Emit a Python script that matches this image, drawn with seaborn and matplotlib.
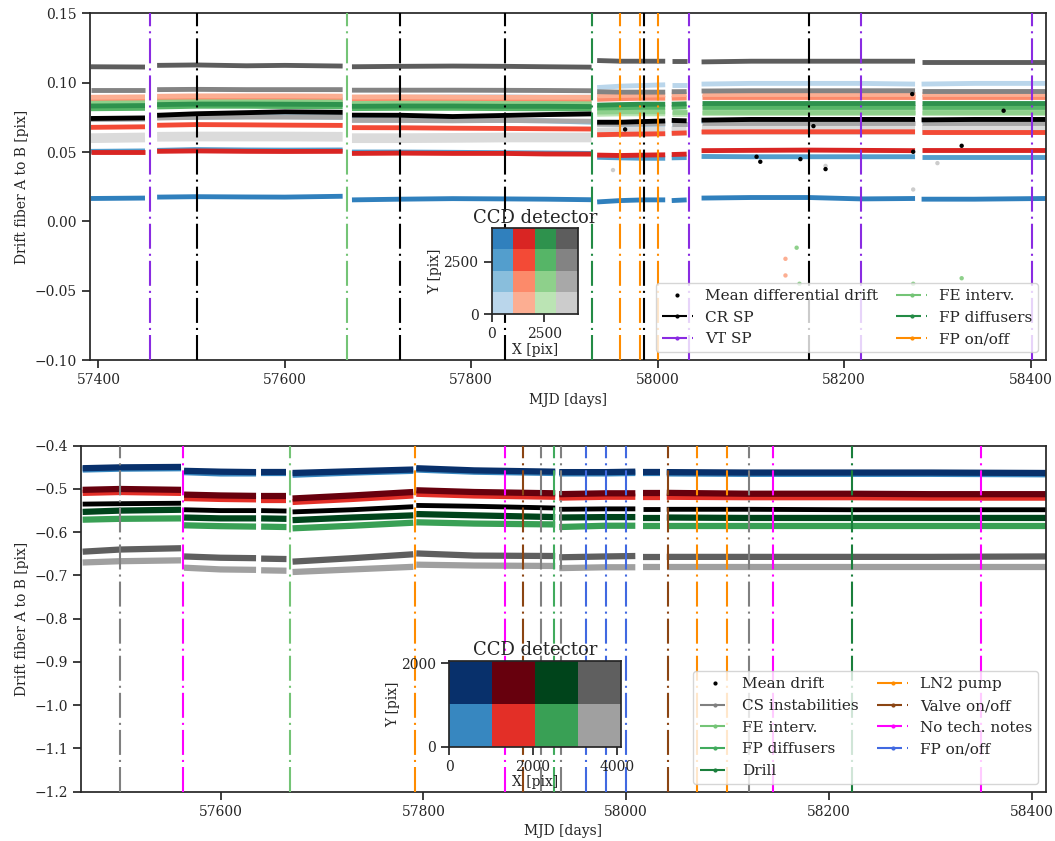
import numpy as np
import pandas as pd
import matplotlib
matplotlib.use("Agg")
import matplotlib.pyplot as plt
import matplotlib.colors as mcolors
from matplotlib.lines import Line2D
import seaborn as sns

sns.set_theme(style="ticks")
plt.rcParams["font.family"] = ["DejaVu Serif"]
plt.rcParams["font.size"] = 10
plt.rcParams["axes.labelsize"] = 10
plt.rcParams["xtick.labelsize"] = 10
plt.rcParams["ytick.labelsize"] = 10

# ---------------- upper panel: differential drift per CCD quadrant ----------------
top_mjd = [57392, 57450, 57463, 57505, 57559, 57600, 57662, 57672, 57725, 57780,
           57836, 57880, 57929, 57935, 57960, 57985, 58008, 58015, 58031, 58047,
           58100, 58162, 58218, 58276, 58283, 58340, 58416]
top_gaps = [(57450, 57463), (57662, 57672), (57929, 57935), (58008, 58015),
            (58031, 58047), (58276, 58283)]

top_b1 = [0.0165, 0.0168, 0.0175, 0.0178, 0.0176, 0.0175, 0.0181, 0.0155, 0.0160, 0.0164,
          0.0162, 0.0160, 0.0156, 0.0140, 0.0150, 0.0155, 0.0155, 0.0150, 0.0155, 0.0168,
          0.0172, 0.0172, 0.0162, 0.0165, 0.0160, 0.0160, 0.0165]
top_b2 = [0.0505, 0.0508, 0.0512, 0.0518, 0.0515, 0.0514, 0.0515, 0.0500, 0.0500, 0.0498,
          0.0495, 0.0493, 0.0490, 0.0462, 0.0458, 0.0455, 0.0455, 0.0458, 0.0460, 0.0468,
          0.0466, 0.0466, 0.0466, 0.0466, 0.0466, 0.0466, 0.0466]
top_b3 = [0.0738, 0.0740, 0.0748, 0.0752, 0.0755, 0.0755, 0.0752, 0.0732, 0.0730, 0.0728,
          0.0728, 0.0725, 0.0715, 0.0705, 0.0700, 0.0700, 0.0702, 0.0705, 0.0705, 0.0722,
          0.0725, 0.0725, 0.0725, 0.0725, 0.0725, 0.0725, 0.0725]
top_b4 = [0.0890, 0.0892, 0.0895, 0.0898, 0.0898, 0.0898, 0.0897, 0.0893, 0.0895, 0.0898,
          0.0898, 0.0895, 0.0895, 0.0965, 0.0975, 0.0980, 0.0985, 0.0985, 0.0985, 0.0990,
          0.0995, 0.0995, 0.0995, 0.0990, 0.0990, 0.0995, 0.0995]
top_r1 = [0.0500, 0.0500, 0.0505, 0.0508, 0.0505, 0.0504, 0.0505, 0.0490, 0.0492, 0.0490,
          0.0490, 0.0486, 0.0485, 0.0478, 0.0475, 0.0478, 0.0480, 0.0482, 0.0485, 0.0510,
          0.0512, 0.0514, 0.0512, 0.0510, 0.0512, 0.0512, 0.0512]
top_r2 = [0.0678, 0.0682, 0.0693, 0.0698, 0.0696, 0.0694, 0.0692, 0.0676, 0.0675, 0.0672,
          0.0670, 0.0668, 0.0666, 0.0625, 0.0628, 0.0630, 0.0632, 0.0635, 0.0638, 0.0645,
          0.0646, 0.0646, 0.0646, 0.0646, 0.0646, 0.0646, 0.0646]
top_r3 = [0.0868, 0.0870, 0.0875, 0.0878, 0.0878, 0.0878, 0.0876, 0.0870, 0.0872, 0.0870,
          0.0872, 0.0870, 0.0870, 0.0880, 0.0885, 0.0888, 0.0888, 0.0888, 0.0890, 0.0900,
          0.0900, 0.0900, 0.0900, 0.0900, 0.0900, 0.0900, 0.0900]
top_r4 = [0.0895, 0.0898, 0.0902, 0.0905, 0.0905, 0.0905, 0.0903, 0.0897, 0.0898, 0.0896,
          0.0895, 0.0895, 0.0895, 0.0905, 0.0908, 0.0910, 0.0912, 0.0912, 0.0915, 0.0920,
          0.0920, 0.0920, 0.0920, 0.0920, 0.0920, 0.0920, 0.0920]
top_g1 = [0.0832, 0.0835, 0.0842, 0.0846, 0.0846, 0.0845, 0.0843, 0.0830, 0.0832, 0.0832,
          0.0830, 0.0830, 0.0828, 0.0838, 0.0842, 0.0845, 0.0845, 0.0845, 0.0848, 0.0852,
          0.0852, 0.0852, 0.0852, 0.0852, 0.0852, 0.0852, 0.0852]
top_g2 = [0.0812, 0.0815, 0.0825, 0.0830, 0.0830, 0.0828, 0.0826, 0.0813, 0.0815, 0.0815,
          0.0813, 0.0812, 0.0810, 0.0818, 0.0820, 0.0822, 0.0822, 0.0822, 0.0825, 0.0828,
          0.0828, 0.0828, 0.0828, 0.0828, 0.0828, 0.0828, 0.0828]
top_g3 = [0.0852, 0.0855, 0.0860, 0.0862, 0.0862, 0.0862, 0.0860, 0.0850, 0.0852, 0.0852,
          0.0850, 0.0850, 0.0848, 0.0788, 0.0790, 0.0790, 0.0790, 0.0790, 0.0790, 0.0792,
          0.0792, 0.0792, 0.0792, 0.0792, 0.0792, 0.0792, 0.0792]
top_g4 = [0.0842, 0.0845, 0.0852, 0.0855, 0.0855, 0.0855, 0.0853, 0.0842, 0.0843, 0.0843,
          0.0842, 0.0840, 0.0840, 0.0772, 0.0775, 0.0775, 0.0775, 0.0775, 0.0775, 0.0778,
          0.0778, 0.0778, 0.0778, 0.0778, 0.0778, 0.0778, 0.0778]
top_k1 = [0.1115, 0.1113, 0.1125, 0.1128, 0.1122, 0.1125, 0.1120, 0.1115, 0.1118, 0.1120,
          0.1118, 0.1115, 0.1112, 0.1160, 0.1155, 0.1155, 0.1155, 0.1160, 0.1160, 0.1150,
          0.1155, 0.1155, 0.1155, 0.1155, 0.1150, 0.1150, 0.1150]
top_k2 = [0.0945, 0.0945, 0.0950, 0.0952, 0.0950, 0.0950, 0.0950, 0.0946, 0.0946, 0.0946,
          0.0945, 0.0944, 0.0942, 0.0935, 0.0932, 0.0932, 0.0932, 0.0935, 0.0936, 0.0940,
          0.0942, 0.0942, 0.0942, 0.0942, 0.0942, 0.0942, 0.0942]
top_k3 = [0.0735, 0.0738, 0.0745, 0.0750, 0.0752, 0.0752, 0.0750, 0.0728, 0.0728, 0.0725,
          0.0728, 0.0725, 0.0722, 0.0700, 0.0700, 0.0702, 0.0705, 0.0705, 0.0705, 0.0708,
          0.0708, 0.0708, 0.0708, 0.0708, 0.0708, 0.0708, 0.0708]
top_k4 = [0.0600, 0.0605, 0.0610, 0.0612, 0.0612, 0.0612, 0.0610, 0.0600, 0.0600, 0.0602,
          0.0605, 0.0605, 0.0605, 0.0640, 0.0645, 0.0645, 0.0650, 0.0650, 0.0655, 0.0660,
          0.0660, 0.0660, 0.0660, 0.0660, 0.0660, 0.0660, 0.0660]
top_mean = [0.0742, 0.0746, 0.0765, 0.0776, 0.0784, 0.0790, 0.0786, 0.0766, 0.0765, 0.0756,
            0.0764, 0.0770, 0.0775, 0.0715, 0.0715, 0.0720, 0.0724, 0.0728, 0.0725, 0.0730,
            0.0735, 0.0735, 0.0735, 0.0735, 0.0732, 0.0735, 0.0735]

# isolated points well off the main trends
top_mean_out_mjd = [57965, 58106, 58110, 58153, 58167, 58180, 58273, 58274, 58326, 58371]
top_mean_out_val = [0.0663, 0.0466, 0.0430, 0.0449, 0.0687, 0.0377, 0.0918, 0.0502, 0.0545, 0.0798]
top_g3_out_mjd = [58149, 58152, 58274, 58326]
top_g3_out_val = [-0.019, -0.045, -0.045, -0.041]
top_r4_out_mjd = [58137, 58137]
top_r4_out_val = [-0.027, -0.039]
top_k4_out_mjd = [57952, 58180, 58274, 58300]
top_k4_out_val = [0.037, 0.040, 0.023, 0.042]

# interventions, upper panel (MJD)
top_cr_sp = [57505.5, 57723.5, 57836, 57985.5, 58162.5]
top_vt_sp = [57455, 58034, 58218, 58401]
top_fe = [57667]
top_fp_diff = [57929]
top_fp_onoff = [57959, 57981, 58000.5]

# ---------------- lower panel: drift per CCD half ----------------
bot_mjd = [57464, 57501, 57561, 57564, 57600, 57635, 57640, 57665, 57671, 57730, 57790,
           57793, 57850, 57930, 57934, 57980, 58009, 58017, 58033, 58040, 58120, 58222,
           58300, 58414]
bot_gaps = [(57561, 57564), (57635, 57640), (57665, 57671), (57790, 57793),
            (57930, 57934), (58009, 58017), (58033, 58040)]

bot_blue_hi = [-0.452, -0.450, -0.449, -0.458, -0.460, -0.461, -0.461, -0.461, -0.463, -0.459,
               -0.455, -0.452, -0.457, -0.460, -0.461, -0.461, -0.460, -0.461, -0.461, -0.461,
               -0.462, -0.462, -0.462, -0.463]
bot_blue_lo = [-0.455, -0.453, -0.452, -0.461, -0.464, -0.464, -0.464, -0.464, -0.467, -0.462,
               -0.458, -0.455, -0.460, -0.463, -0.464, -0.464, -0.463, -0.464, -0.464, -0.464,
               -0.465, -0.465, -0.465, -0.466]
bot_red_hi = [-0.502, -0.500, -0.502, -0.513, -0.515, -0.516, -0.517, -0.517, -0.522, -0.515,
              -0.507, -0.503, -0.507, -0.510, -0.512, -0.510, -0.510, -0.510, -0.510, -0.509,
              -0.511, -0.511, -0.512, -0.512]
bot_red_lo = [-0.509, -0.507, -0.509, -0.521, -0.523, -0.524, -0.525, -0.525, -0.530, -0.523,
              -0.515, -0.511, -0.515, -0.518, -0.520, -0.518, -0.518, -0.518, -0.518, -0.518,
              -0.519, -0.519, -0.520, -0.520]
bot_green_hi = [-0.553, -0.550, -0.548, -0.566, -0.568, -0.568, -0.568, -0.569, -0.572, -0.566,
                -0.561, -0.558, -0.561, -0.565, -0.566, -0.565, -0.565, -0.566, -0.566, -0.566,
                -0.567, -0.567, -0.567, -0.567]
bot_green_lo = [-0.571, -0.569, -0.568, -0.584, -0.586, -0.587, -0.587, -0.588, -0.591, -0.585,
                -0.578, -0.577, -0.580, -0.582, -0.588, -0.585, -0.585, -0.585, -0.585, -0.585,
                -0.585, -0.585, -0.585, -0.585]
bot_grey_hi = [-0.645, -0.640, -0.637, -0.656, -0.659, -0.660, -0.661, -0.662, -0.668, -0.660,
               -0.651, -0.649, -0.654, -0.655, -0.658, -0.656, -0.655, -0.657, -0.657, -0.657,
               -0.657, -0.657, -0.657, -0.656]
bot_grey_lo = [-0.670, -0.667, -0.665, -0.682, -0.686, -0.687, -0.688, -0.689, -0.692, -0.686,
               -0.680, -0.675, -0.677, -0.678, -0.683, -0.681, -0.681, -0.681, -0.681, -0.681,
               -0.681, -0.681, -0.681, -0.681]
bot_mean = [-0.535, -0.534, -0.533, -0.548, -0.550, -0.550, -0.550, -0.551, -0.553, -0.548,
            -0.541, -0.538, -0.540, -0.544, -0.547, -0.546, -0.546, -0.547, -0.547, -0.547,
            -0.547, -0.548, -0.548, -0.548]

# interventions, lower panel (MJD)
bot_cs = [57501, 57916, 57936, 58121]
bot_fe = [57668]
bot_fp_diff = [57929]
bot_drill = [58222.5]
bot_ln2 = [57792, 58070, 58099.5]
bot_valve = [57898.5, 58041]
bot_notes = [57562.5, 57880.5, 58145, 58349.5]
bot_fp_onoff = [57960, 57980, 57999.5]

# ---------------- colours ----------------
top_colors = {
    "b1": "#3080bd", "b2": "#539ecd", "b3": "#89bedc", "b4": "#bad6eb",
    "r1": "#d92523", "r2": "#f34a36", "r3": "#fc8a6a", "r4": "#fcae92",
    "g1": "#2e924d", "g2": "#56b567", "g3": "#8ed08b", "g4": "#bbe4b4",
    "k1": "#5d5d5d", "k2": "#838383", "k3": "#a8a8a8", "k4": "#cccccc",
}
bot_colors = {
    "blue_hi": "#08306b", "red_hi": "#67000d", "green_hi": "#00441b", "grey_hi": "#5f5f5f",
    "blue_lo": "#3787c0", "red_lo": "#e32f27", "green_lo": "#39a055", "grey_lo": "#a0a0a0",
}
DASHDOT = (0, (12, 2.4, 1, 2.4))


def series_frame(mjd, gaps, series):
    rows = []
    for name, vals in series.items():
        for m, v in zip(mjd, vals):
            seg = sum(1 for a, b in gaps if b <= m)
            rows.append((name, seg, m, v))
    return pd.DataFrame(rows, columns=["quad", "seg", "mjd", "drift"])


def draw_bands(ax, mjd, gaps, series, palette, lw, alpha=1.0):
    df = series_frame(mjd, gaps, series)
    sns.lineplot(data=df, x="mjd", y="drift", hue="quad", hue_order=list(series),
                 units="seg", estimator=None, palette=palette, lw=lw, alpha=alpha,
                 legend=False, sort=False, ax=ax, solid_capstyle="butt")


def draw_points(ax, mjd, vals, color):
    sns.scatterplot(x=mjd, y=vals, color=color, s=10, edgecolor="none", ax=ax, zorder=2.5)


def draw_events(ax, dates, color):
    for d in dates:
        ax.axvline(d, color=color, ls=DASHDOT, lw=1.5, zorder=3)


def event_handle(color, label):
    return Line2D([], [], color=color, ls=DASHDOT, lw=1.5, marker=".", ms=4, label=label)


fig = plt.figure(figsize=(10.55, 8.41), dpi=100)
ax1 = fig.add_axes([0.0853, 0.5719, 0.9062, 0.4122])
ax2 = fig.add_axes([0.0768, 0.0586, 0.9147, 0.4114])

# upper panel bands
draw_bands(ax1, top_mjd, top_gaps, {"k4": top_k4}, top_colors, lw=7, alpha=0.7)
draw_bands(ax1, top_mjd, top_gaps,
           {"b1": top_b1, "b2": top_b2, "b3": top_b3, "b4": top_b4,
            "r1": top_r1, "r2": top_r2, "r3": top_r3, "r4": top_r4,
            "g4": top_g4, "g3": top_g3, "g2": top_g2, "g1": top_g1,
            "k1": top_k1, "k2": top_k2, "k3": top_k3},
           top_colors, lw=3.5)
draw_bands(ax1, top_mjd, top_gaps, {"mean": top_mean}, {"mean": "black"}, lw=3.5)
draw_points(ax1, top_k4_out_mjd, top_k4_out_val, top_colors["k4"])
draw_points(ax1, top_r4_out_mjd, top_r4_out_val, top_colors["r4"])
draw_points(ax1, top_g3_out_mjd, top_g3_out_val, top_colors["g3"])
draw_points(ax1, top_mean_out_mjd, top_mean_out_val, "black")

draw_events(ax1, top_cr_sp, "black")
draw_events(ax1, top_vt_sp, "#8a2be2")
draw_events(ax1, top_fe, "#74c476")
draw_events(ax1, top_fp_diff, "#238b45")
draw_events(ax1, top_fp_onoff, "#ff8c00")

ax1.set_xlim(57391, 58416.5)
ax1.set_ylim(-0.10, 0.15)
ax1.set_xlabel("MJD [days]")
ax1.set_ylabel("Drift fiber A to B [pix]")
h1 = [Line2D([], [], color="black", ls="none", marker=".", ms=4,
             label="Mean differential drift"),
      event_handle("black", "CR SP"),
      event_handle("#8a2be2", "VT SP"),
      event_handle("#74c476", "FE interv."),
      event_handle("#238b45", "FP diffusers"),
      event_handle("#ff8c00", "FP on/off")]
ax1.legend(handles=h1, ncol=2, loc="lower right", fontsize=11, columnspacing=1.2)

# lower panel bands
draw_bands(ax2, bot_mjd, bot_gaps,
           {"blue_lo": bot_blue_lo, "blue_hi": bot_blue_hi,
            "red_lo": bot_red_lo, "red_hi": bot_red_hi,
            "green_lo": bot_green_lo, "green_hi": bot_green_hi,
            "grey_lo": bot_grey_lo, "grey_hi": bot_grey_hi},
           bot_colors, lw=4.5)
draw_bands(ax2, bot_mjd, bot_gaps, {"mean": bot_mean}, {"mean": "black"}, lw=3.5)

draw_events(ax2, bot_cs, "#808080")
draw_events(ax2, bot_fe, "#74c476")
draw_events(ax2, bot_fp_diff, "#41ab5d")
draw_events(ax2, bot_drill, "#1a7f3c")
draw_events(ax2, bot_ln2, "#ff8c00")
draw_events(ax2, bot_valve, "#8b4513")
draw_events(ax2, bot_notes, "#ff00ff")
draw_events(ax2, bot_fp_onoff, "#4169e1")

ax2.set_xlim(57462.4, 58414)
ax2.set_ylim(-1.2, -0.4)
ax2.set_xlabel("MJD [days]")
ax2.set_ylabel("Drift fiber A to B [pix]")
h2 = [Line2D([], [], color="black", ls="none", marker=".", ms=4, label="Mean drift"),
      event_handle("#808080", "CS instabilities"),
      event_handle("#74c476", "FE interv."),
      event_handle("#41ab5d", "FP diffusers"),
      event_handle("#1a7f3c", "Drill"),
      event_handle("#ff8c00", "LN2 pump"),
      event_handle("#8b4513", "Valve on/off"),
      event_handle("#ff00ff", "No tech. notes"),
      event_handle("#4169e1", "FP on/off")]
ax2.legend(handles=h2, ncol=2, loc="lower right", fontsize=11, columnspacing=1.2)

# detector maps
quad_grid = [["b1", "r1", "g1", "k1"],
             ["b2", "r2", "g2", "k2"],
             ["b3", "r3", "g3", "k3"],
             ["b4", "r4", "g4", "k4"]]
half_grid = [["blue_hi", "red_hi", "green_hi", "grey_hi"],
             ["blue_lo", "red_lo", "green_lo", "grey_lo"]]

in1 = fig.add_axes([0.4661, 0.6266, 0.0815, 0.1019])
img1 = np.array([[mcolors.to_rgb(top_colors[k]) for k in row] for row in quad_grid])
in1.imshow(img1, extent=[0, 4096, 0, 4096], aspect="auto", interpolation="nearest")
in1.set_title("CCD detector", fontsize=13, pad=4)
in1.set_xlabel("X [pix]", labelpad=1)
in1.set_ylabel("Y [pix]", labelpad=1)
in1.set_xticks([0, 2500])
in1.set_yticks([0, 2500])

in2 = fig.add_axes([0.4259, 0.1121, 0.1624, 0.1019])
img2 = np.array([[mcolors.to_rgb(bot_colors[k]) for k in row] for row in half_grid])
in2.imshow(img2, extent=[0, 4096, 0, 2048], aspect="auto", interpolation="nearest")
in2.set_title("CCD detector", fontsize=13, pad=4)
in2.set_xlabel("X [pix]", labelpad=1)
in2.set_ylabel("Y [pix]", labelpad=1)
in2.set_xticks([0, 2000, 4000])
in2.set_yticks([0, 2000])

fig.savefig("out.png", dpi=100)
